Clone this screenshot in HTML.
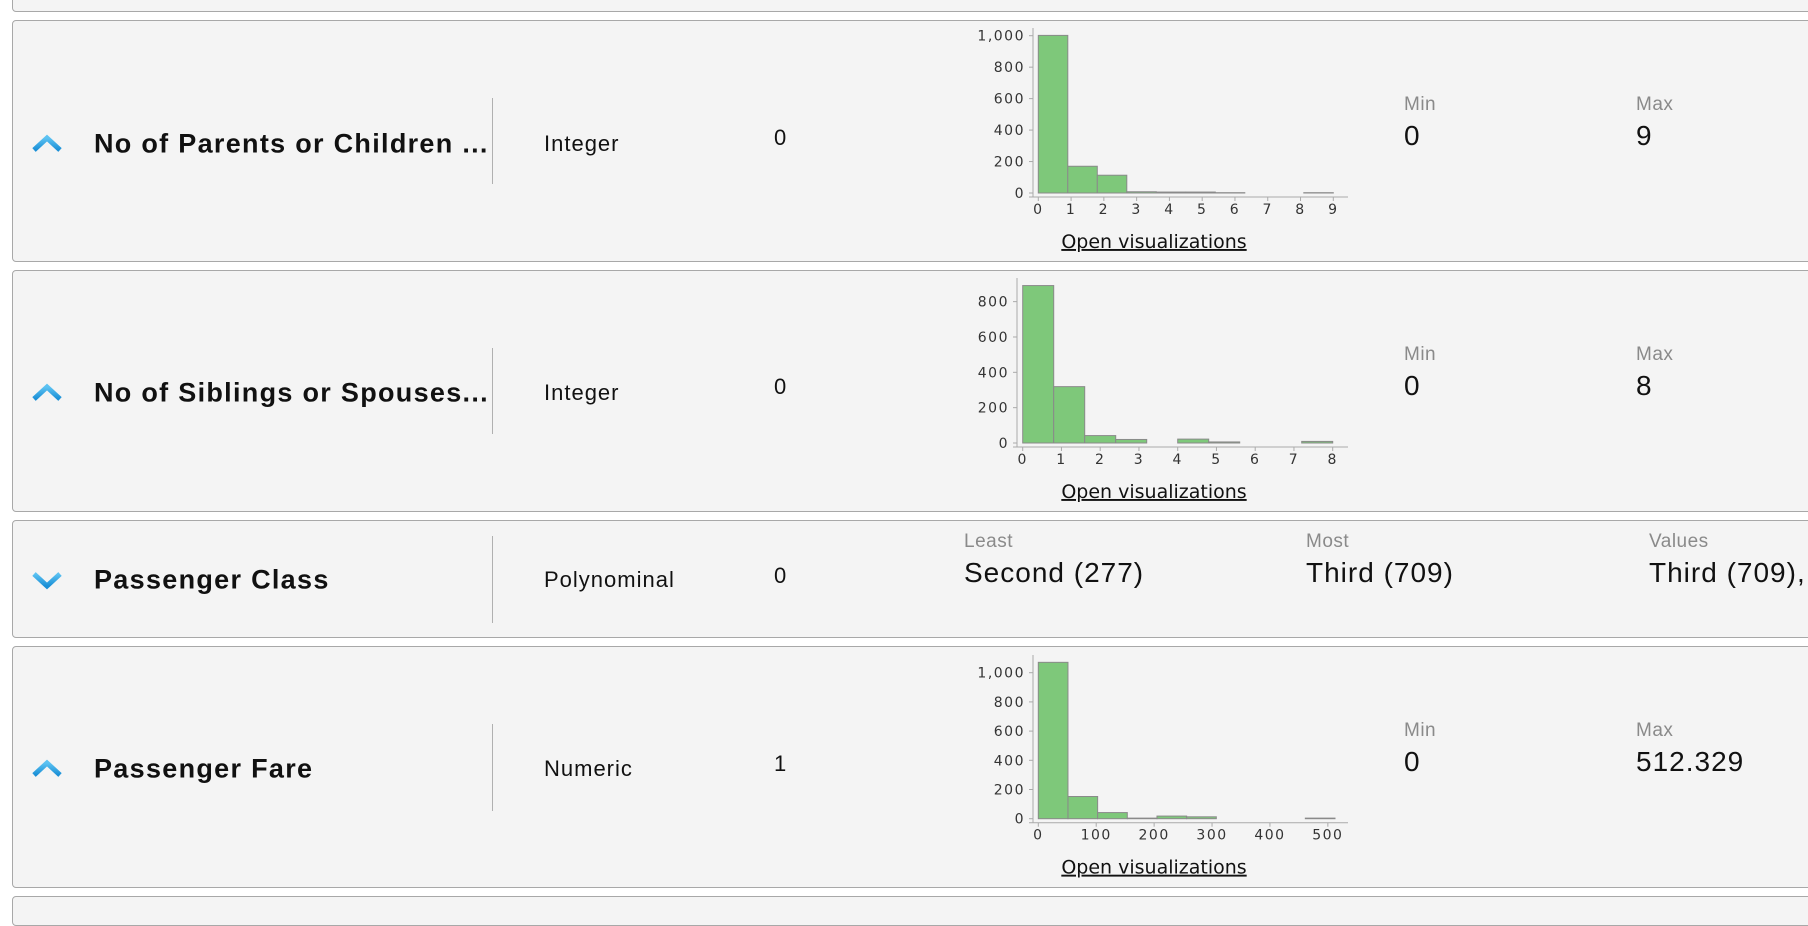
<!DOCTYPE html>
<html><head><meta charset="utf-8"><style>
body{margin:0;width:1808px;height:900px;background:#fff;position:relative;overflow:hidden;font-family:"Liberation Sans",sans-serif;}
.panel{position:absolute;left:12px;width:1830px;background:#f4f4f4;border:1px solid #a8a8a8;border-radius:4px;box-sizing:border-box;}
.t{position:absolute;white-space:nowrap;transform:translateY(-50%);}
.name{font-weight:bold;font-size:27px;letter-spacing:1.3px;color:#111;left:94px;}
.type{font-size:22px;letter-spacing:1px;color:#111;left:544px;}
.miss{font-size:22px;color:#111;left:774px;}
.lab{font-size:19px;letter-spacing:0.5px;color:#8a8a8a;}
.val{font-size:28px;letter-spacing:1px;color:#111;}
.sep{position:absolute;left:492px;width:1px;background:#b0b0b0;}
svg{position:absolute;left:0;top:0;}
</style></head><body>
<div class="panel" style="top:-20px;height:32px"></div>
<div class="panel" style="top:20px;height:242px"></div>
<div class="panel" style="top:270px;height:242px"></div>
<div class="panel" style="top:520px;height:118px"></div>
<div class="panel" style="top:646px;height:242px"></div>
<div class="panel" style="top:896px;height:30px"></div>

<div class="t name" style="top:144px">No of Parents or Children ...</div>
<div class="t name" style="top:393px">No of Siblings or Spouses...</div>
<div class="t name" style="top:580px">Passenger Class</div>
<div class="t name" style="top:769px">Passenger Fare</div>
<div class="sep" style="top:98px;height:86px"></div>
<div class="sep" style="top:348px;height:86px"></div>
<div class="sep" style="top:536px;height:87px"></div>
<div class="sep" style="top:724px;height:87px"></div>
<div class="t type" style="top:144px">Integer</div>
<div class="t type" style="top:393px">Integer</div>
<div class="t type" style="top:580px">Polynominal</div>
<div class="t type" style="top:769px">Numeric</div>
<div class="t miss" style="top:138px">0</div>
<div class="t miss" style="top:387px">0</div>
<div class="t miss" style="top:576px">0</div>
<div class="t miss" style="top:764px">1</div>

<div class="t lab" style="left:1404px;top:105px">Min</div>
<div class="t val" style="left:1404px;top:136px">0</div>
<div class="t lab" style="left:1636px;top:105px">Max</div>
<div class="t val" style="left:1636px;top:136px">9</div>
<div class="t lab" style="left:1404px;top:355px">Min</div>
<div class="t val" style="left:1404px;top:386px">0</div>
<div class="t lab" style="left:1636px;top:355px">Max</div>
<div class="t val" style="left:1636px;top:386px">8</div>
<div class="t lab" style="left:964px;top:542px">Least</div>
<div class="t val" style="left:964px;top:573px">Second (277)</div>
<div class="t lab" style="left:1306px;top:542px">Most</div>
<div class="t val" style="left:1306px;top:573px">Third (709)</div>
<div class="t lab" style="left:1649px;top:542px">Values</div>
<div class="t val" style="left:1649px;top:573px">Third (709), Fi</div>
<div class="t lab" style="left:1404px;top:731px">Min</div>
<div class="t val" style="left:1404px;top:762px">0</div>
<div class="t lab" style="left:1636px;top:731px">Max</div>
<div class="t val" style="left:1636px;top:762px">512.329</div>

<svg id="s" width="1808" height="900">
<defs><linearGradient id="g" x1="0" y1="0" x2="0" y2="1"><stop offset="0" stop-color="#5cc2f2"/><stop offset="1" stop-color="#1a8fd6"/></linearGradient></defs>
<g><polyline points="34,150 47,138 60,150" fill="none" stroke="url(#g)" stroke-width="5"/></g>
<g><polyline points="34,399 47,387 60,399" fill="none" stroke="url(#g)" stroke-width="5"/></g>
<g><polyline points="34,574 47,586 60,574" fill="none" stroke="url(#g)" stroke-width="5"/></g>
<g><polyline points="34,775 47,763 60,775" fill="none" stroke="url(#g)" stroke-width="5"/></g>
</svg>
<script>
const parchCounts=[1002,170,113,8,6,6,2,0,0,2];
const parchXTicks=[0,1,2,3,4,5,6,7,8,9];
const parchYTicks=[0,200,400,600,800,1000];
const sibspCounts=[891,319,42,20,0,22,6,0,0,9];
const sibspXTicks=[0,1,2,3,4,5,6,7,8];
const sibspYTicks=[0,200,400,600,800];
const fareCounts=[1071,152,42,4,18,13,0,0,0,4];
const fareXTicks=[0,100,200,300,400,500];
const fareYTicks=[0,200,400,600,800,1000];
const parchRange=[0,9], sibspRange=[0,8], fareRange=[0,512.329];

const NS="http://www.w3.org/2000/svg";
const svg=document.getElementById('s');
function mk(tag,attrs,parent){const e=document.createElementNS(NS,tag);for(const k in attrs)e.setAttribute(k,attrs[k]);(parent||svg).appendChild(e);return e;}
function fmt(v){return v.toLocaleString('en-US');}
function chart(name,counts,range,xt,yt,cfg){
  const g=mk('g',{});
  
  
  const xs=v=>cfg.x0+(v-range[0])/(range[1]-range[0])*cfg.w;
  const ys=v=>cfg.y0-v*cfg.k;
  const bw=(range[1]-range[0])/counts.length;
  counts.forEach((c,i)=>{
    const x1=xs(range[0]+i*bw),x2=xs(range[0]+(i+1)*bw);
    const r=mk('rect',{x:x1,y:ys(c),width:x2-x1,height:cfg.y0-ys(c),fill:'#7ec87a',stroke:'#8a8a8a','stroke-width':1},g);
    
    
  });
  mk('line',{x1:cfg.ax,y1:cfg.top,x2:cfg.ax,y2:cfg.y0+4,stroke:'#aaa','stroke-width':1},g);
  mk('line',{x1:cfg.ax-4,y1:cfg.y0+4,x2:1348,y2:cfg.y0+4,stroke:'#aaa','stroke-width':1},g);
  yt.forEach(v=>{
    mk('line',{x1:cfg.ax-4,y1:ys(v),x2:cfg.ax,y2:ys(v),stroke:'#aaa'},g);
    const t=mk('text',{x:cfg.ax-8,y:ys(v)+5,'text-anchor':'end','font-size':14,fill:'#333','letter-spacing':1.5,'font-family':'DejaVu Sans, sans-serif'},g);
    t.textContent=fmt(v);
    
    
  });
  xt.forEach(v=>{
    mk('line',{x1:xs(v),y1:cfg.y0+4,x2:xs(v),y2:cfg.y0+8,stroke:'#aaa'},g);
    const t=mk('text',{x:xs(v),y:cfg.y0+21,'text-anchor':'middle','font-size':14,fill:'#333','letter-spacing':1.5,'font-family':'DejaVu Sans, sans-serif'},g);
    t.textContent=fmt(v);
    
    
  });
  const l=mk('text',{x:1154,y:cfg.y0+55,'text-anchor':'middle','font-size':19,fill:'#111','text-decoration':'underline','font-family':'DejaVu Sans, sans-serif'},g);
  l.textContent='Open visualizations';
  
  
}
chart('parch',parchCounts,parchRange,parchXTicks,parchYTicks,{x0:1038.3,w:295,y0:193,k:0.1573,ax:1033,top:28});
chart('sibsp',sibspCounts,sibspRange,sibspXTicks,sibspYTicks,{x0:1022.7,w:310,y0:443,k:0.1767,ax:1017,top:278});
chart('fare',fareCounts,fareRange,fareXTicks,fareYTicks,{x0:1038.3,w:296.7,y0:818.7,k:0.146,ax:1033,top:655});
</script>
</body></html>
